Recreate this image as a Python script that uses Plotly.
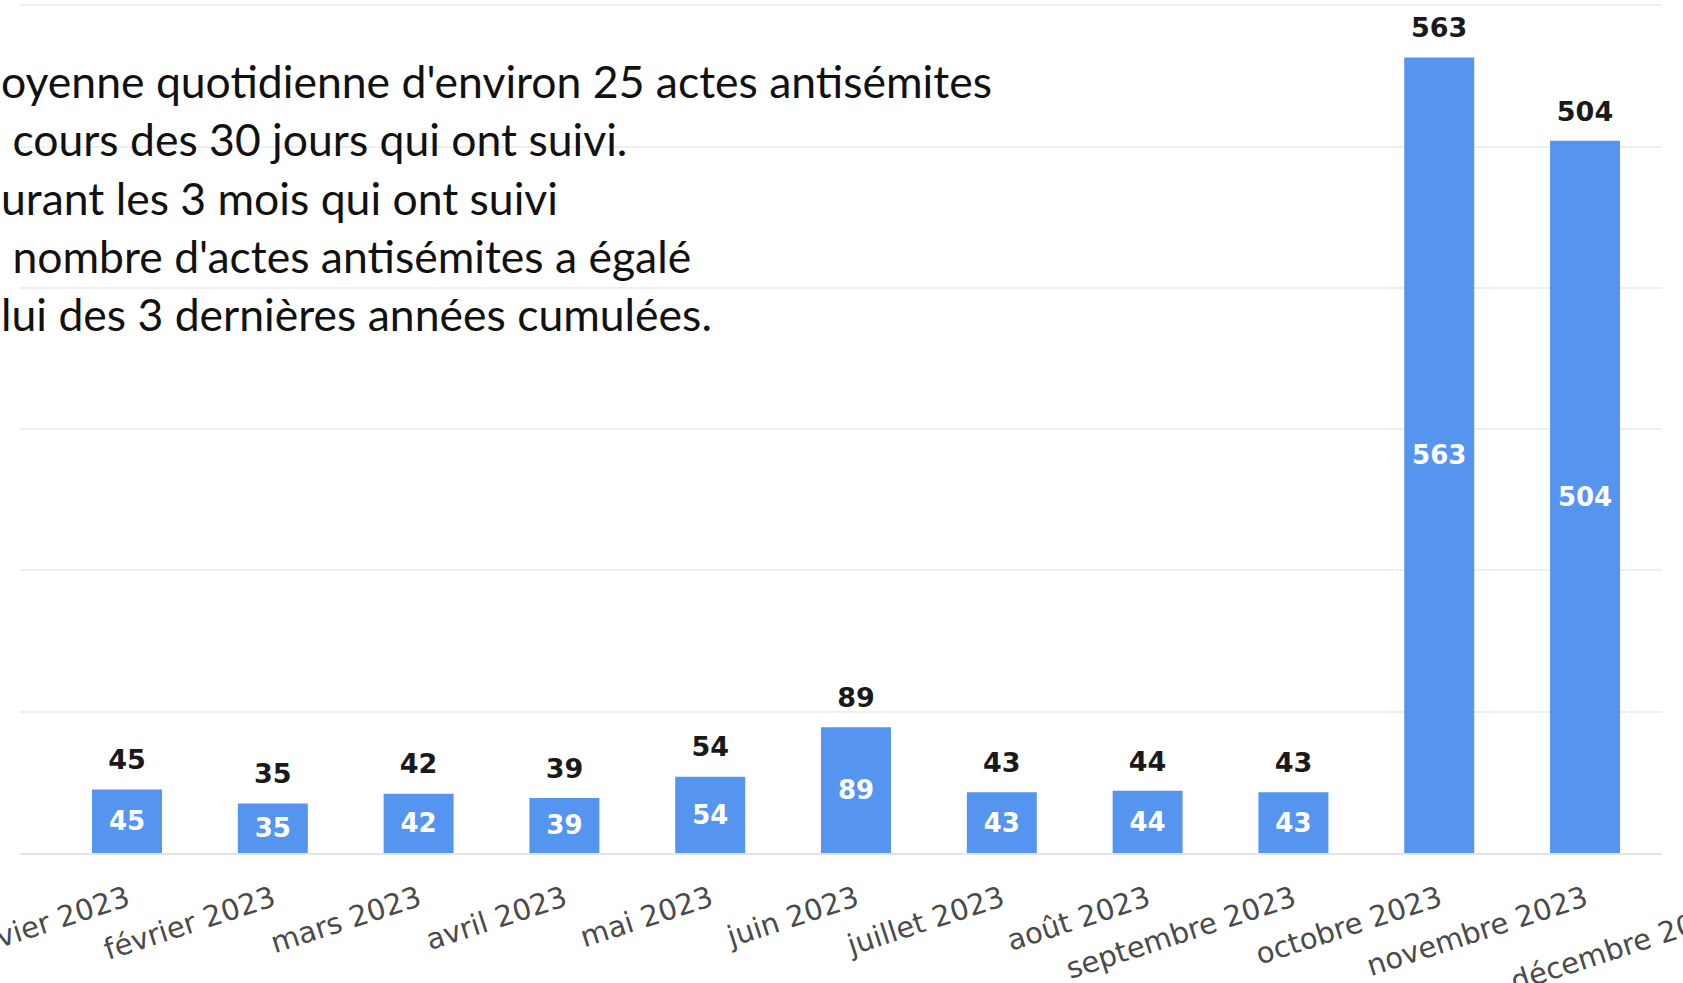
import plotly.graph_objects as go

MONTHS = ["janvier 2023", "février 2023", "mars 2023", "avril 2023", "mai 2023",
          "juin 2023", "juillet 2023", "août 2023", "septembre 2023",
          "octobre 2023", "novembre 2023", "décembre 2023"]
VALUES = [45, 35, 42, 39, 54, 89, 43, 44, 43, 563, 504]

TEXT_LINES = [
    "oyenne quotidienne d'environ 25 actes antisémites",
    "\u00a0cours des 30 jours qui ont suivi.",
    "urant les 3 mois qui ont suivi",
    "\u00a0nombre d'actes antisémites a égalé",
    "lui des 3 dernières années cumulées.",
]

BAR_COLOR = "#5595F0"
shown = MONTHS[:len(VALUES)]

# visible window of the category axis (the chart is a crop of a wider one)
X_RANGE = [-0.734, 10.528]
Y_RANGE = [0, 603.7]

fig = go.Figure()
fig.add_trace(go.Bar(
    x=shown, y=VALUES, marker=dict(color=BAR_COLOR, line=dict(width=0)),
    text=[str(v) for v in VALUES], textposition="inside", insidetextanchor="middle",
    textangle=0, constraintext="none",
    textfont=dict(family="DejaVu Sans", size=26, color="white", weight="bold"),
    hoverinfo="skip",
))
fig.add_trace(go.Scatter(
    x=shown, y=VALUES, mode="markers+text",
    marker=dict(size=20, opacity=0),
    text=[str(v) for v in VALUES], textposition="top center",
    textfont=dict(family="DejaVu Sans", size=27, color="#1a1a1a", weight="bold"),
    hoverinfo="skip", cliponaxis=False,
))

for i, line in enumerate(TEXT_LINES):
    fig.add_annotation(
        text=line, xref="paper", yref="paper", x=-0.0125, y=1 - (80 + 58.5 * i) / 853,
        xanchor="left", yanchor="middle", showarrow=False, align="left",
        font=dict(family="Lato", size=44.5, color="#111111"),
    )

# label of the partially visible last month, placed on the same axis scale
k = len(MONTHS) - 1
fig.add_annotation(
    text=MONTHS[k], xref="paper", yref="paper",
    x=(k - X_RANGE[0]) / (X_RANGE[1] - X_RANGE[0]), y=0,
    xanchor="right", yanchor="top", yshift=-40, xshift=6, showarrow=False,
    textangle=-18, font=dict(family="DejaVu Sans", size=29, color="#4a4a4a"),
)

fig.update_layout(
    width=1683, height=983,
    margin=dict(l=20, r=21, t=0, b=130, autoexpand=False),
    plot_bgcolor="white", paper_bgcolor="white",
    showlegend=False, bargap=0.52, hovermode=False,
    xaxis=dict(type="category", range=X_RANGE, tickangle=-18, automargin=False,
               tickfont=dict(family="DejaVu Sans", size=29, color="#4a4a4a"),
               showgrid=False, zeroline=False, ticks="", ticklabelstandoff=16,
               showline=True, linecolor="#E4E4E6", linewidth=2),
    yaxis=dict(range=Y_RANGE, dtick=100, showticklabels=False, gridcolor="#EFEFF1",
               gridwidth=2, zeroline=False, showline=False, automargin=False),
)

fig.write_html("out.html", config={"displayModeBar": False},
               post_script="document.body.style.margin='0px';")
